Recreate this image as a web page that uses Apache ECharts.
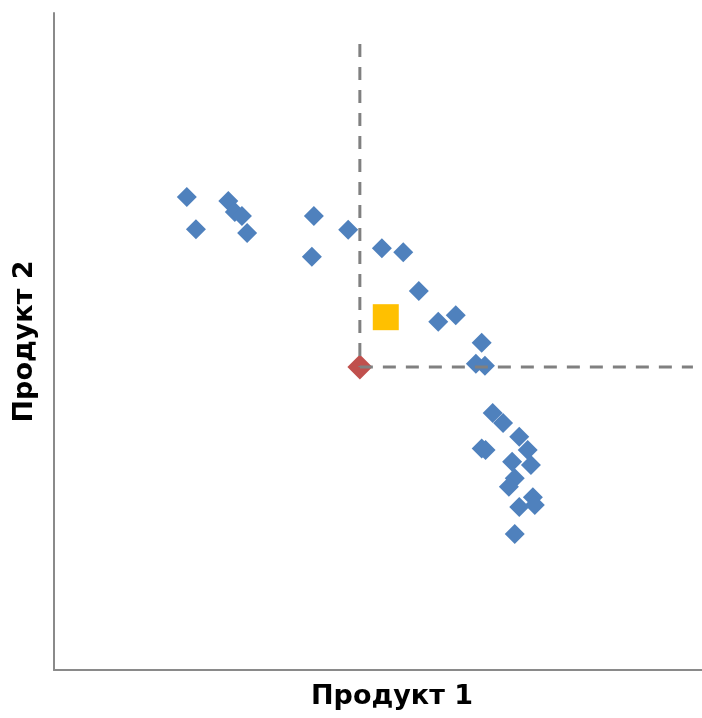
<!DOCTYPE html>
<html>
<head>
	<meta charset="utf-8">
	<title>Продукт 1 / Продукт 2</title>
	<script src="https://cdn.jsdelivr.net/npm/echarts@6/dist/echarts.min.js"></script>
	<style type="text/css">
		html,body{
			margin: 0;
			width: 100%;
			height: 100%;
			background: #fff;
		}
		#main{
			width: 702px;
			height: 718px;
		}
	</style>
</head>
<body>
<div id="main"></div>
<script>
    // точки (Продукт 1, Продукт 2)
    var pointsX = [20.5, 21.9, 26.9, 27.9, 29.0, 29.8, 40.1, 39.8, 45.4, 50.6, 53.9, 56.3, 59.3, 62.0, 66.0, 65.1, 66.5,
        67.7, 69.3, 71.8, 73.1, 73.6, 66.0, 66.6, 70.7, 71.1, 70.2, 73.9, 74.2, 71.8, 71.1];
    var pointsY = [72.0, 67.1, 71.4, 69.7, 69.1, 66.5, 69.1, 62.9, 67.0, 64.2, 63.6, 57.7, 53.0, 54.0, 49.8, 46.6, 46.3,
        39.1, 37.6, 35.5, 33.5, 31.2, 33.7, 33.5, 31.7, 29.2, 27.9, 26.3, 25.1, 24.8, 20.7];
    // красная точка
    var refPoint = [47.2, 46.1];
    // жёлтый квадрат
    var idealPoint = [51.2, 53.7];
    // концы пунктирных линий
    var vTop = 95.3;
    var hRight = 98.6;

    var points = [];
    for (var i = 0; i < pointsX.length; i++) {
        points.push([pointsX[i], pointsY[i]]);
    }

    var myChart = echarts.init(document.getElementById('main'));
    var axisColor = '#8a8a8a';
    var titleFont = {
        fontFamily: 'DejaVu Sans',
        fontWeight: 'bold',
        fontSize: 27,
        color: '#000'
    };

    var option = {
        animation: false,
        grid: {
            left: 54,
            right: 0,
            top: 13,
            bottom: 48
        },
        xAxis: {
            type: 'value',
            min: 0,
            max: 100,
            name: 'Продукт 1',
            nameLocation: 'middle',
            nameGap: 13,
            nameTextStyle: Object.assign({padding: [0, 0, 0, 28]}, titleFont),
            axisLine: {show: true, onZero: false, lineStyle: {color: axisColor, width: 2}},
            axisTick: {show: false},
            axisLabel: {show: false},
            splitLine: {show: false}
        },
        yAxis: {
            type: 'value',
            min: 0,
            max: 100,
            name: 'Продукт 2',
            nameLocation: 'middle',
            nameGap: 16,
            nameTextStyle: titleFont,
            axisLine: {show: true, onZero: false, lineStyle: {color: axisColor, width: 2}},
            axisTick: {show: false},
            axisLabel: {show: false},
            splitLine: {show: false}
        },
        series: [
            {
                type: 'scatter',
                symbol: 'diamond',
                symbolSize: 20,
                itemStyle: {color: '#4F81BD', opacity: 1},
                data: points
            },
            {
                type: 'scatter',
                symbol: 'diamond',
                symbolSize: 25,
                itemStyle: {color: '#C0504D', opacity: 1},
                data: [refPoint]
            },
            {
                type: 'scatter',
                symbol: 'rect',
                symbolSize: 26,
                itemStyle: {color: '#FFC000', opacity: 1},
                data: [idealPoint]
            },
            // пунктир поверх точек
            {
                type: 'line',
                symbol: 'none',
                z: 5,
                lineStyle: {color: '#808080', width: 3, type: [13, 10]},
                data: [[refPoint[0], vTop], refPoint]
            },
            {
                type: 'line',
                symbol: 'none',
                z: 5,
                lineStyle: {color: '#808080', width: 3, type: [13, 10]},
                data: [refPoint, [hRight, refPoint[1]]]
            }
        ]
    };

    myChart.setOption(option);
</script>
</body>
</html>
